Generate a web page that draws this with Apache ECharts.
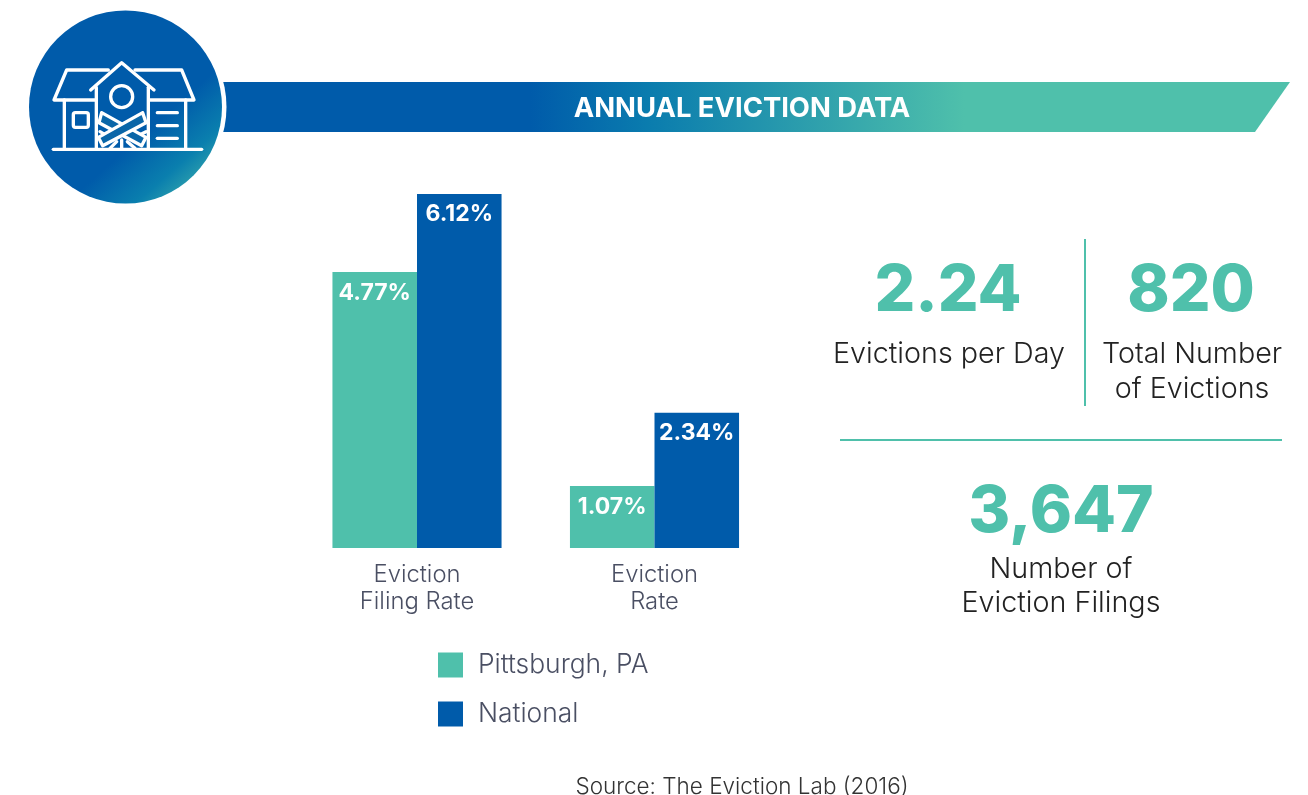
<!DOCTYPE html>
<html>
<head>
<meta charset="utf-8">
<title>Annual Eviction Data</title>
<script src="https://cdn.jsdelivr.net/npm/echarts@6/dist/echarts.min.js"></script>
<style>
  html, body { margin: 0; padding: 0; background: #fff; }
  #chart { width: 1308px; height: 795px; }
</style>
</head>
<body>
<div id="chart"></div>
<script>
const categories = ['Eviction\nFiling Rate', 'Eviction\nRate']
const pittsburgh = [4.77, 1.07]
const national = [6.12, 2.34]

const BLUE = '#005BAA'
const TEAL = '#4FC0AB'
const FONT = 'Inter'

const chart = echarts.init(document.getElementById('chart'))

// text blocks on the right side + header
function label(text, x, y, size, weight, color) {
  return {
    type: 'text',
    x: x,
    y: y,
    style: { text: text, fill: color, font: weight + ' ' + size + 'px ' + FONT, align: 'center', verticalAlign: 'middle' }
  }
}
function stroke(shape, type) {
  return {
    type: type || 'polyline',
    shape: shape,
    style: { stroke: '#fff', lineWidth: 10, fill: type === 'polygon' ? '#0A66A8' : null, lineJoin: 'round', lineCap: 'round' }
  }
}

// icon is drawn in 3x coordinates, the group scales it back down
const icon = {
  type: 'group',
  x: 20,
  y: 0,
  scaleX: 1 / 3,
  scaleY: 1 / 3,
  children: [
    stroke({ points: [[100, 448], [545, 448]] }),
    stroke({ points: [[265, 210], [140, 210], [102, 300], [225, 300]] }),
    stroke({ points: [[345, 210], [485, 210], [522, 300], [390, 300]] }),
    stroke({ points: [[212, 270], [305, 188], [402, 270]] }),
    stroke({ points: [[229, 262], [229, 445]] }),
    stroke({ points: [[385, 262], [385, 445]] }),
    stroke({ points: [[133, 300], [133, 445]] }),
    stroke({ points: [[497, 300], [497, 445]] }),
    stroke({ cx: 305, cy: 290, r: 33 }, 'circle'),
    { type: 'rect', shape: { x: 160, y: 338, width: 45, height: 44, r: 6 }, style: { stroke: '#fff', lineWidth: 10, fill: null } },
    stroke({ points: [[412, 338], [472, 338]] }),
    stroke({ points: [[412, 377], [472, 377]] }),
    stroke({ points: [[412, 415], [472, 415]] }),
    stroke({ points: [[240, 395], [270, 412]] }),
    stroke({ points: [[378, 395], [345, 412]] }),
    stroke({ points: [[305, 420], [305, 442]] }),
    stroke({ points: [[270, 445], [290, 425]] }),
    stroke({ points: [[345, 445], [322, 425]] }),
    stroke({ points: [[245, 338], [378, 412], [365, 437], [237, 368]] }, 'polygon'),
    stroke({ points: [[368, 338], [235, 412], [248, 437], [378, 368]] }, 'polygon')
  ]
}

const option = {
  animation: false,
  backgroundColor: '#fff',
  grid: { left: 298.25, top: 143.1, width: 475, height: 404.9 },
  legend: {
    left: 438,
    top: 652,
    padding: 0,
    orient: 'vertical',
    itemWidth: 25,
    itemHeight: 25,
    itemGap: 23,
    icon: 'rect',
    selectedMode: false,
    textStyle: { color: '#4A4F63', fontSize: 26.4, fontWeight: 300, lineHeight: 25, fontFamily: FONT, padding: [0, 0, 0, 10] }
  },
  xAxis: {
    type: 'category',
    data: categories,
    axisLine: { show: false },
    axisTick: { show: false },
    axisLabel: { color: '#4A4F63', fontSize: 23.8, fontWeight: 300, fontFamily: FONT, lineHeight: 27, margin: 13 }
  },
  yAxis: { type: 'value', min: 0, max: 7, show: false },
  series: [
    {
      name: 'Pittsburgh, PA',
      type: 'bar',
      data: pittsburgh,
      barGap: 0,
      barCategoryGap: '28.8%',
      itemStyle: { color: TEAL }
    },
    {
      name: 'National',
      type: 'bar',
      data: national,
      itemStyle: { color: BLUE }
    }
  ].map(s => ({
    ...s,
    label: {
      show: true,
      position: 'insideTop',
      distance: 9,
      formatter: p => p.value.toFixed(2) + '%',
      color: '#fff',
      fontSize: 23,
      fontWeight: 700,
      fontFamily: FONT
    }
  })),
  graphic: [
    {
      type: 'polygon',
      shape: { points: [[220, 82], [1290, 82], [1255, 132], [220, 132]] },
      style: {
        fill: new echarts.graphic.LinearGradient(0, 0, 1, 0, [
          { offset: 0, color: BLUE },
          { offset: 0.29, color: BLUE },
          { offset: 0.4, color: '#0A7CAE' },
          { offset: 0.696, color: TEAL },
          { offset: 1, color: TEAL }
        ])
      }
    },
    { type: 'circle', shape: { cx: 125.5, cy: 107, r: 101 }, style: { fill: '#fff' } },
    {
      type: 'circle',
      shape: { cx: 125.5, cy: 107, r: 96.5 },
      style: {
        fill: new echarts.graphic.LinearGradient(0.15, 0.1, 0.95, 1, [
          { offset: 0, color: BLUE },
          { offset: 0.58, color: BLUE },
          { offset: 0.78, color: '#0A7FAE' },
          { offset: 1, color: TEAL }
        ])
      }
    },
    icon,
    label('ANNUAL EVICTION DATA', 742, 109, 27.4, 700, '#fff'),
    label('2.24', 948, 292, 64, 800, TEAL),
    label('820', 1191, 292, 64, 800, TEAL),
    label('3,647', 1061, 513, 64, 800, TEAL),
    label('Evictions per Day', 949, 354, 28.7, 300, '#222'),
    label('Total Number', 1192, 354, 28.7, 300, '#222'),
    label('of Evictions', 1192, 389, 28.7, 300, '#222'),
    label('Number of', 1061, 569, 28.7, 300, '#222'),
    label('Eviction Filings', 1061, 603, 28.7, 300, '#222'),
    label('Source: The Eviction Lab (2016)', 742, 787, 22.5, 300, '#333'),
    { type: 'line', shape: { x1: 1085, y1: 239, x2: 1085, y2: 406 }, style: { stroke: TEAL, lineWidth: 2 } },
    { type: 'line', shape: { x1: 840, y1: 440, x2: 1282, y2: 440 }, style: { stroke: TEAL, lineWidth: 2 } }
  ]
}

chart.setOption(option)
window.addEventListener('resize', () => chart.resize())
</script>
</body>
</html>
